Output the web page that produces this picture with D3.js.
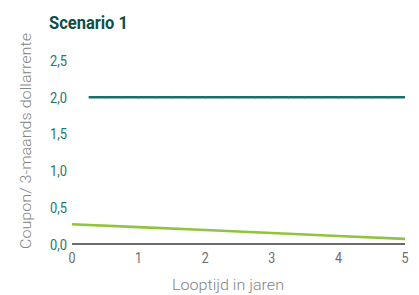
<!DOCTYPE html>
<html lang="nl">
<head>
<meta charset="utf-8" />
<title>Scenario 1</title>
<script src="https://d3js.org/d3.v7.min.js"></script>
<style>
  body { margin: 0; background: #fff; }
  .title { font-family: "Roboto", sans-serif; font-weight: bold; font-size: 18px; fill: #0f4f43; }
  .ytick { font-family: "Roboto", sans-serif; font-size: 14px; fill: #1d7a70; }
  .xtick { font-family: "Roboto", sans-serif; font-size: 14px; fill: #6d6d6d; }
  .axtitle { font-family: "Roboto", "Liberation Sans", sans-serif; font-size: 14px; font-weight: 300; fill: #858585; }
</style>
</head>
<body>
<svg width="419" height="295"></svg>
<script>
const yTicks = [0, 0.5, 1.0, 1.5, 2.0, 2.5];
const xTicks = [0, 1, 2, 3, 4, 5];

// coupon, every quarter from 0.25 to 5 years
const couponX = [0.25, 0.5, 0.75, 1, 1.25, 1.5, 1.75, 2, 2.25, 2.5, 2.75, 3, 3.25, 3.5, 3.75, 4, 4.25, 4.5, 4.75, 5];
const couponY = [2.0, 2.0, 2.0, 2.0, 2.0, 2.0, 2.0, 2.0, 2.0, 2.0, 2.0, 2.0, 2.0, 2.0, 2.0, 2.0, 2.0, 2.0, 2.0, 2.0];

// 3-maands dollarrente
const rateX = [0, 1, 2, 3, 4, 5];
const rateY = [0.27, 0.23, 0.19, 0.15, 0.11, 0.07];

const svg = d3.select("svg");
const x = d3.scaleLinear().domain([0, 5]).range([72, 405]);
const y = d3.scaleLinear().domain([0, 2.5]).range([244, 60.5]);

// condensed look: squeeze text with textLength
svg.append("text").attr("class", "title")
  .attr("x", 49).attr("y", 29)
  .attr("textLength", 79).attr("lengthAdjust", "spacingAndGlyphs")
  .text("Scenario 1");

// y tick labels (no axis line)
svg.append("g").selectAll("text").data(yTicks).join("text")
  .attr("class", "ytick")
  .attr("x", 50).attr("y", d => y(d) + 5.5)
  .attr("textLength", 17).attr("lengthAdjust", "spacingAndGlyphs")
  .text(d => d3.format(".1f")(d).replace(".", ","));

// x axis
svg.append("line")
  .attr("x1", x(0)).attr("x2", x(5))
  .attr("y1", y(0)).attr("y2", y(0))
  .attr("stroke", "#6b6b6b").attr("stroke-width", 2.2);

svg.append("g").selectAll("text").data(xTicks).join("text")
  .attr("class", "xtick")
  .attr("text-anchor", "middle")
  .attr("x", d => x(d)).attr("y", 263)
  .attr("textLength", 7).attr("lengthAdjust", "spacingAndGlyphs")
  .text(d => d);

svg.append("text").attr("class", "axtitle")
  .attr("text-anchor", "middle")
  .attr("x", 228).attr("y", 290)
  .attr("textLength", 112).attr("lengthAdjust", "spacingAndGlyphs")
  .text("Looptijd in jaren");

svg.append("text").attr("class", "axtitle")
  .attr("text-anchor", "middle")
  .attr("transform", "translate(31,141) rotate(-90)")
  .attr("textLength", 216).attr("lengthAdjust", "spacingAndGlyphs")
  .text("Coupon/ 3-maands dollarrente");

const line = d3.line().x(d => x(d[0])).y(d => y(d[1]));

svg.append("path")
  .datum(d3.zip(rateX, rateY))
  .attr("d", line)
  .attr("fill", "none")
  .attr("stroke", "#8fc43c")
  .attr("stroke-width", 2.6);

svg.append("path")
  .datum(d3.zip(couponX, couponY))
  .attr("d", line)
  .attr("fill", "none")
  .attr("stroke", "#1a6e68")
  .attr("stroke-width", 2.6);

// faint joins between segments
svg.append("g").selectAll("line").data(couponX.slice(1, -1)).join("line")
  .attr("x1", d => x(d)).attr("x2", d => x(d))
  .attr("y1", y(2.0) - 1.3).attr("y2", y(2.0) + 1.3)
  .attr("stroke", "#2e7f78").attr("stroke-width", 0.7);
</script>
</body>
</html>
